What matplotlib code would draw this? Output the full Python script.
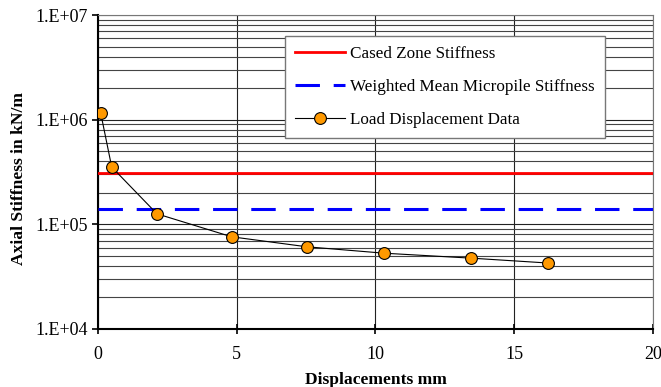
import numpy as np
import matplotlib.pyplot as plt
from matplotlib.ticker import FixedLocator, FuncFormatter, LogLocator, NullFormatter

plt.rcParams['font.family'] = ['Liberation Serif', 'DejaVu Serif']

disp_mm = [0.1, 0.5, 2.13, 4.82, 7.53, 10.3, 13.45, 16.2]
stiffness = [1.17e6, 3.53e5, 1.26e5, 7.6e4, 6.1e4, 5.3e4, 4.75e4, 4.27e4]
cased_zone = 3.1e5
weighted_mean = 1.41e5
x_ticks = [0, 5, 10, 15, 20]

fig = plt.figure(figsize=(6.61, 3.87), dpi=100)
ax = fig.add_axes([0.148, 0.150, 0.840, 0.811])

ax.set_yscale('log')
ax.set_xlim(0, 20)
ax.set_ylim(1e4, 1e7)

ax.axhline(cased_zone, color='#ff0000', lw=2.0, label='Cased Zone Stiffness', zorder=3)
ax.axhline(weighted_mean, color='#0000ff', lw=2.2, dashes=(8, 4.5),
           label='Weighted Mean Micropile Stiffness', zorder=3)
ax.plot(disp_mm, stiffness, color='black', lw=0.8, marker='o', ms=8.5,
        mfc='#ff9900', mec='black', mew=0.8, label='Load Displacement Data', zorder=4)

# grid
ax.yaxis.set_major_locator(LogLocator(base=10, numticks=10))
ax.yaxis.set_minor_locator(LogLocator(base=10, subs=np.arange(2, 10), numticks=10))
ax.yaxis.set_minor_formatter(NullFormatter())
ax.yaxis.set_major_formatter(FuncFormatter(lambda v, p: '1.E+%02d' % round(np.log10(v))))
ax.xaxis.set_major_locator(FixedLocator(x_ticks))
ax.grid(which='major', axis='both', color='#222222', lw=0.8)
ax.grid(which='minor', axis='y', color='#444444', lw=0.8)
ax.set_axisbelow(True)

ax.tick_params(axis='y', which='minor', length=0)
ax.tick_params(axis='y', which='major', direction='out', length=4, width=1.2, labelsize=13, pad=3)
ax.tick_params(axis='x', which='major', direction='inout', length=7, width=1.2, labelsize=13, pad=9)

for s in ['top', 'right']:
    ax.spines[s].set_color('#777777')
    ax.spines[s].set_linewidth(0.8)
for s in ['left', 'bottom']:
    ax.spines[s].set_linewidth(1.5)

ax.set_xlabel('Displacements mm', fontsize=12.6, fontweight='bold', va='center')
ax.set_ylabel('Axial Stiffness in kN/m', fontsize=12.6, fontweight='bold', va='center')
ax.xaxis.set_label_coords(0.5, -0.162)
ax.yaxis.set_label_coords(-0.142, 0.478)

leg = ax.legend(loc='upper left', bbox_to_anchor=(0.337, 0.934), borderaxespad=0,
                fontsize=12.3, frameon=True, fancybox=False, edgecolor='#777777',
                framealpha=1, handlelength=2.9, borderpad=0.6, labelspacing=1.0,
                handletextpad=0.3)
leg.get_frame().set_linewidth(1.0)

fig.savefig('out.png', dpi=100)
